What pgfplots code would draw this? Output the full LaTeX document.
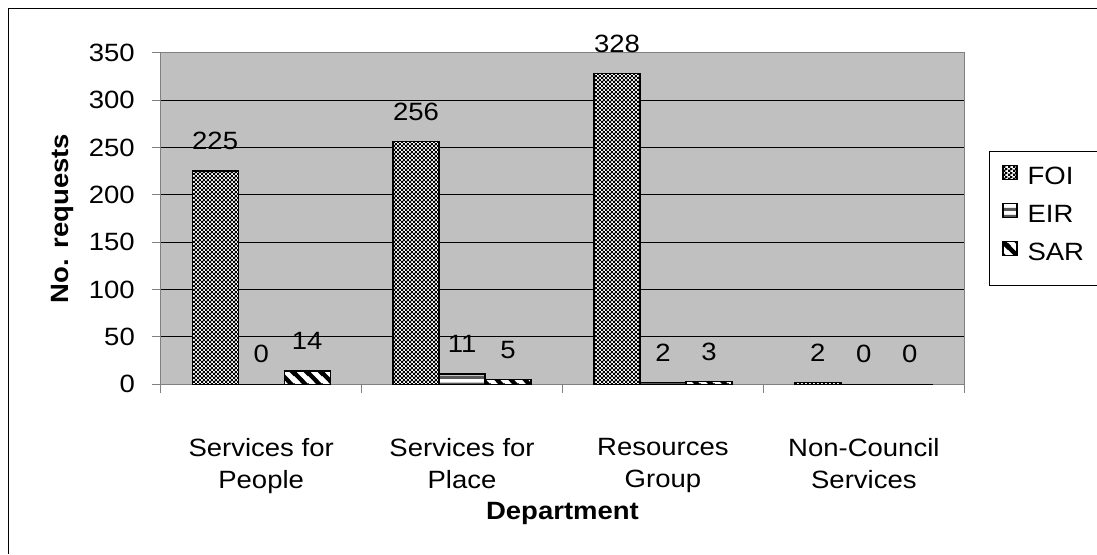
\documentclass[border=0pt]{standalone}
\usepackage{pgfplots}
\pgfplotsset{compat=1.18}
\usepackage{fontspec}
\setmainfont{Liberation Sans}[FakeStretch=1.1]
\usetikzlibrary{patterns}

% fine black/white checks for FOI
\pgfdeclarepatternformonly{foicheck}{\pgfpointorigin}{\pgfqpoint{4.4pt}{4.4pt}}{\pgfqpoint{4.4pt}{4.4pt}}{%
  \pgfpathrectangle{\pgfpointorigin}{\pgfqpoint{2.5pt}{2.5pt}}%
  \pgfpathrectangle{\pgfqpoint{2.2pt}{2.2pt}}{\pgfqpoint{2.5pt}{2.5pt}}%
  \pgfusepath{fill}}
% wide horizontal stripes for EIR
\pgfdeclarepatternformonly{eirlines}{\pgfpointorigin}{\pgfqpoint{1pt}{7pt}}{\pgfqpoint{1pt}{7pt}}{%
  \pgfpathrectangle{\pgfpointorigin}{\pgfqpoint{1pt}{3.5pt}}%
  \pgfusepath{fill}}
% thick "\" stripes for SAR
\pgfdeclarepatternformonly{sarstripes}{\pgfpointorigin}{\pgfqpoint{14pt}{14pt}}{\pgfqpoint{14pt}{14pt}}{%
  \pgfsetlinewidth{4.5pt}%
  \pgfpathmoveto{\pgfqpoint{-1pt}{15pt}}\pgfpathlineto{\pgfqpoint{15pt}{-1pt}}%
  \pgfpathmoveto{\pgfqpoint{-8pt}{8pt}}\pgfpathlineto{\pgfqpoint{8pt}{-8pt}}%
  \pgfpathmoveto{\pgfqpoint{6pt}{22pt}}\pgfpathlineto{\pgfqpoint{22pt}{6pt}}%
  \pgfusepath{stroke}}

\definecolor{plotbg}{RGB}{192,192,192}
\definecolor{axgray}{RGB}{128,128,128}

\newcommand{\chartfont}{\fontsize{25}{32}\selectfont}

\pgfplotsset{
  boxlegend/.style={legend image code/.code={%
    \draw[##1, line width=1pt] (0pt,1pt) rectangle (14pt,15pt);
    \path (19pt,0pt);}},
  deptbar/.style={ybar, bar width=46pt, draw=black, line width=1.3pt, preaction={fill=white}, boxlegend},
}

\begin{document}
\begin{tikzpicture}[x=1pt,y=1pt]
\useasboundingbox (0,0) rectangle (1097,554);
% chart area border
\draw[black, line width=1pt] (8.5,0) -- (8.5,545.5) -- (1097,545.5);
\begin{axis}[
  at={(160.7pt,169.7pt)}, anchor=south west,
  scale only axis, width=803.6pt, height=331.6pt,
  xmin=-0.5, xmax=3.5, ymin=0, ymax=350,
  axis background/.style={fill=plotbg},
  axis line style={draw=axgray, line width=1.2pt},
  ytick={0,50,...,350},
  ymajorgrids, major grid style={black, line width=0.9pt},
  xtick={-0.5,0.5,1.5,2.5,3.5},
  x tick label as interval,
  xticklabels={{Services for\\People},{Services for\\Place},{Resources\\Group},{Non-Council\\Services}},
  tick pos=left,
  tick align=outside, major tick length=8.7pt,
  tick style={draw=axgray, line width=1pt},
  /pgf/number format/assume math mode=true,
  tick label style={font=\chartfont},
  yticklabel style={anchor=east, inner sep=0pt, xshift=-17pt},
  xticklabel style={align=center, anchor=north, inner sep=0pt, yshift=-45pt},
  xlabel={Department}, ylabel={No. requests},
  xlabel style={font=\chartfont\bfseries, at={(0.5,0)}, anchor=center, yshift=-129pt},
  ylabel style={font=\chartfont\bfseries, at={(0,0.5)}, anchor=center, yshift=98.7pt},
  nodes near coords,
  every node near coord/.append style={font=\chartfont, anchor=center, yshift=30pt},
  legend style={at={(1,0.5)}, anchor=west, xshift=24.7pt, draw=black, line width=0.8pt,
    fill=white, font=\chartfont, inner xsep=13pt, inner ysep=10pt, row sep=0pt,
    nodes={inner sep=5pt, text height=18pt, text depth=10pt}},
  legend cell align=left,
]
\addplot[deptbar, bar shift=-46pt, pattern=foicheck,
  every node near coord/.append style={xshift=-46pt}]
  coordinates {(0,225) (1,256) (2,328) (3,2)};
\addlegendentry{FOI}
\addplot[deptbar, bar shift=0pt, pattern=eirlines]
  coordinates {(0,0) (1,11) (2,2) (3,0)};
\addlegendentry{EIR}
\addplot[deptbar, bar shift=46pt, pattern=sarstripes,
  every node near coord/.append style={xshift=46pt}]
  coordinates {(0,14) (1,5) (2,3) (3,0)};
\addlegendentry{SAR}
\end{axis}
\end{tikzpicture}
\end{document}
